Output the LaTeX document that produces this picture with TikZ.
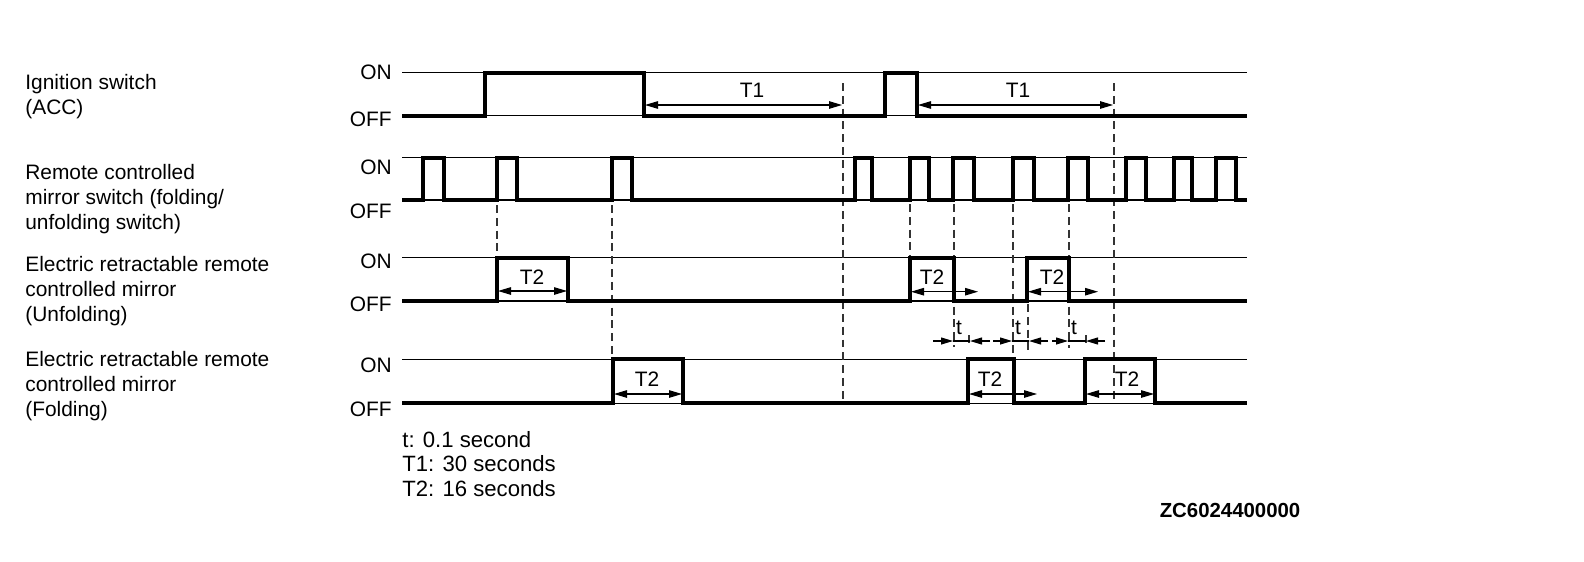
\documentclass[tikz,border=0pt]{standalone}
\usepackage{fontspec}
\setmainfont{Liberation Sans}
\usetikzlibrary{arrows.meta}

\begin{document}
\begin{tikzpicture}[x=0.02cm,y=-0.02cm,
   font=\fontsize{11.9}{14.2}\selectfont,
   ref/.style={line width=0.7pt},
   sig/.style={line width=2.2pt},
   guide/.style={line width=0.9pt,black!80,dash pattern=on 4.5pt off 2.8pt},
   dim/.style={line width=0.6pt,{Triangle[length=2.6mm,width=1.5mm]}-{Triangle[length=2.6mm,width=1.5mm]}},
   half/.style={line width=0.6pt,-{Triangle[length=2.4mm,width=1.4mm]}},
   lvl/.style={anchor=east,inner sep=0pt},
   signame/.style={anchor=west,align=left,inner sep=0pt},
   tag/.style={inner sep=0pt}]
  \useasboundingbox (0,0) rectangle (1584,561);

  % signal names
  \node[signame] (ign)  at (25,96.5) {Ignition switch\\(ACC)};
  \node[signame] (sw)   at (25,199)  {Remote controlled\\mirror switch (folding/\\unfolding switch)};
  \node[signame] (unf)  at (25,291)  {Electric retractable remote\\controlled mirror\\(Unfolding)};
  \node[signame] (fold) at (25,386)  {Electric retractable remote\\controlled mirror\\(Folding)};

  % levels
  \node[lvl] (ign-on)   at (392,72.7)  {ON};
  \node[lvl] (ign-off)  at (392,119.2) {OFF};
  \node[lvl] (sw-on)    at (392,167.7) {ON};
  \node[lvl] (sw-off)   at (392,211)   {OFF};
  \node[lvl] (unf-on)   at (392,261.6) {ON};
  \node[lvl] (unf-off)  at (392,304)   {OFF};
  \node[lvl] (fold-on)  at (392,365.7) {ON};
  \node[lvl] (fold-off) at (392,409)   {OFF};

  % thin ON/OFF lines
  \foreach \y in {72.7,115.7,157.7,200,257.7,301,359.3,403.3}
    \draw[ref] (402,\y) -- (1247,\y);

  % guide lines
  \draw[guide] (843,83) -- (843,403);
  \draw[guide] (1114,83) -- (1114,403);
  \draw[guide] (497,205) -- (497,257.7);
  \draw[guide] (612,205) -- (612,359.3);
  \draw[guide] (910,204) -- (910,257.7);
  \draw[guide] (954,204) -- (954,347);
  \draw[guide] (1013,204) -- (1013,358);
  \draw[guide] (1069,204) -- (1069,348);
  \draw[guide] (969,335) -- (969,345);
  \draw[guide] (1028,304) -- (1028,352);
  \draw[guide] (1086,335) -- (1086,345);

  % signals
  \draw[sig] (402,115.7) -| (485,72.7) -| (644,115.7) -| (885,72.7) -| (917,115.7) -- (1247,115.7);
  \draw[sig] (402,200) foreach \a/\b in {423/444,497/517,612/632,855/872,910/929,953/974,
      1013/1034,1068/1088,1126/1146,1174/1192,1216/1236} { -| (\a,157.7) -| (\b,200) } -- (1247,200);
  \draw[sig] (402,301) foreach \a/\b in {497/568,910/954,1027/1069} { -| (\a,257.7) -| (\b,301) } -- (1247,301);
  \draw[sig] (402,403.3) foreach \a/\b in {613/683,968/1014,1085/1155} { -| (\a,359.3) -| (\b,403.3) } -- (1247,403.3);

  % T1
  \draw[dim] (645,105) -- (842,105);
  \node[tag] (t1a) at (752,90) {T1};
  \draw[dim] (918,105) -- (1113,105);
  \node[tag] (t1b) at (1018,90) {T1};

  % T2
  \draw[dim] (498,291) -- (567,291);
  \node[tag] (t2a) at (532,277) {T2};
  \draw[dim] (911,291.7) -- (978,291.7);
  \node[tag] (t2b) at (932,277) {T2};
  \draw[dim] (1028,291.7) -- (1098,291.7);
  \node[tag] (t2c) at (1052,277) {T2};
  \draw[dim] (614,394) -- (682,394);
  \node[tag] (t2d) at (647,379) {T2};
  \draw[dim] (969,394) -- (1037,394);
  \node[tag] (t2e) at (990,379) {T2};
  \draw[dim] (1086,394) -- (1154,394);
  \node[tag] (t2f) at (1127,379) {T2};

  % t
  \foreach \l/\m/\r/\q/\e in {933/953/970/990/959,993/1012/1029/1048/1018,1052/1068/1086/1105/1074}{
    \draw[half] (\l,341) -- (\m,341);
    \draw[line width=0.6pt] (\m,341) -- (\r,341);
    \draw[half] (\q,341) -- (\r,341);
    \node[tag] at (\e,328) {t};
  }

  % legend
  \node[signame,font=\fontsize{12.6}{14}\selectfont] (legend) at (402,464)
    {t: 0.1 second\\T1: 30 seconds\\T2: 16 seconds};
  \node[tag,font=\fontsize{11.6}{14}\selectfont\bfseries] (code) at (1230,510) {ZC6024400000};
\end{tikzpicture}
\end{document}
